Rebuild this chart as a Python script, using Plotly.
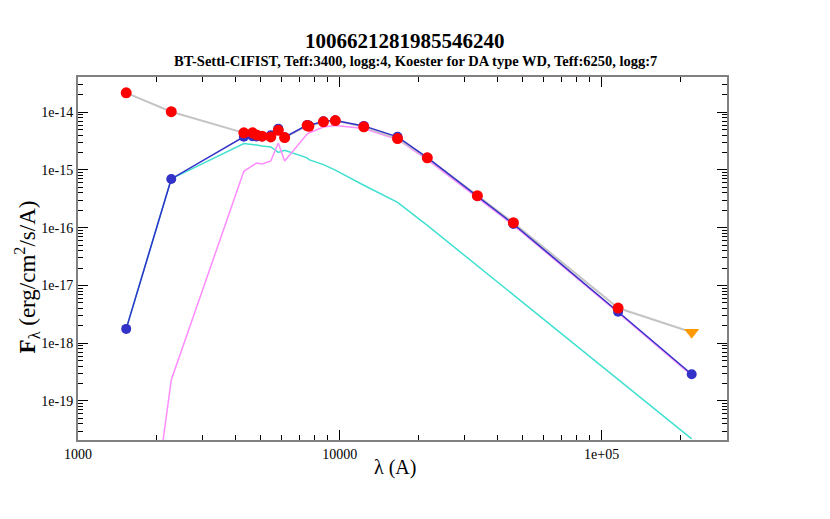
import plotly.graph_objects as go

# photometric bands (wavelength in Angstrom)
bands = ["FUV", "NUV", "B", "g", "PS1 g", "BP", "V", "G", "r", "i", "RP", "z", "y",
         "J", "H", "Ks", "W1", "W2", "W3", "W4"]
wave = [1528, 2271, 4300, 4640, 4810, 5050, 5450, 5822, 6156, 7503, 7620, 8660, 9613,
        12350, 16620, 21590, 33526, 46028, 115608, 220883]

# observed fluxes (W4 is an upper limit)
flux_obs = [2.17e-14, 1.02e-14, 4.39e-15, 4.39e-15, 4.05e-15, 3.84e-15, 3.74e-15, 4.87e-15,
            3.64e-15, 5.88e-15, 5.71e-15, 6.81e-15, 7.18e-15, 5.58e-15, 3.50e-15, 1.62e-15,
            3.59e-16, 1.22e-16, 4.06e-18]
flux_uplim = 1.55e-18

# composite model
flux_model = [1.77e-18, 7.0e-16, 3.75e-15, 3.85e-15, 3.8e-15, 3.8e-15, 4.0e-15, 5.2e-15,
              3.7e-15, 6.0e-15, 5.9e-15, 7.0e-15, 7.2e-15, 5.8e-15, 3.75e-15, 1.63e-15,
              3.5e-16, 1.16e-16, 3.5e-18, 2.9e-19]
# BT-Settl-CIFIST component
flux_bt = [4e-25, 2.31e-19, 9.48e-16, 1.21e-15, 1.32e-15, 1.27e-15, 1.43e-15, 2.94e-15,
           1.43e-15, 4.19e-15, 4.36e-15, 5.53e-15, 5.87e-15, 5.21e-15, 3.37e-15, 1.51e-15,
           3.32e-16, 1.11e-16, 3.37e-18, 2.77e-19]
# Koester WD component
flux_wd = [1.77e-18, 7.0e-16, 2.87e-15, 2.79e-15, 2.70e-15, 2.59e-15, 2.51e-15, 2.02e-15,
           2.19e-15, 1.62e-15, 1.51e-15, 1.24e-15, 9.95e-16, 5.44e-16, 2.75e-16, 1.10e-16,
           2.21e-17, 6.95e-18, 2.38e-19, 2.20e-20]

xticks = [1000, 10000, 100000]
xticktext = ["1000", "10000", "1e+05"]
yticks = [1e-19, 1e-18, 1e-17, 1e-16, 1e-15, 1e-14]
yticktext = ["1e-19", "1e-18", "1e-17", "1e-16", "1e-15", "1e-14"]

serif = "Liberation Serif"

fig = go.Figure()
fig.add_trace(go.Scatter(x=wave, y=flux_wd, mode="lines",
                         line=dict(color="#40E0D0", width=1.5), showlegend=False))
fig.add_trace(go.Scatter(x=wave, y=flux_bt, mode="lines",
                         line=dict(color="#FF8CFF", width=1.5), showlegend=False))
fig.add_trace(go.Scatter(x=wave, y=flux_obs + [flux_uplim], mode="lines",
                         line=dict(color="#C4C4C4", width=2), showlegend=False))
fig.add_trace(go.Scatter(x=wave, y=flux_model, mode="lines+markers",
                         line=dict(color="#3232C8", width=1.5),
                         marker=dict(color="#3232C8", size=10), showlegend=False))
fig.add_trace(go.Scatter(x=wave[:-1], y=flux_obs, mode="markers",
                         marker=dict(color="#FF0000", size=11), showlegend=False))
fig.add_trace(go.Scatter(x=[wave[-1]], y=[flux_uplim], mode="markers",
                         marker=dict(color="#FF9900", size=13, symbol="triangle-down"),
                         showlegend=False))

axis_common = dict(
    showgrid=False, zeroline=False, showline=True, linecolor="#808080", linewidth=2,
    mirror="ticks", ticks="inside", tickcolor="black", tickwidth=1, automargin=False,
    tickfont=dict(family=serif, size=14, color="black"),
)

fig.update_xaxes(type="log", range=[3, 5.479], tickmode="array", tickvals=xticks,
                 ticktext=xticktext, ticklen=10,
                 minor=dict(ticks="inside", ticklen=5, dtick="D1", tickcolor="black"),
                 **axis_common)
fig.update_yaxes(type="log", range=[-19.676, -13.39], tickmode="array", tickvals=yticks,
                 ticktext=yticktext, ticklen=10,
                 minor=dict(ticks="inside", ticklen=5, dtick="D1", tickcolor="black"),
                 **axis_common)

fig.update_layout(
    width=830, height=519,
    margin=dict(l=70, r=111, t=69, b=87),
    plot_bgcolor="white", paper_bgcolor="white",
    title=dict(text="<b>1006621281985546240</b>", x=0.478, xanchor="center",
               y=0.938, yanchor="middle",
               font=dict(family=serif, size=21, color="black")),
    annotations=[
        dict(text="<b>BT-Settl-CIFIST, Teff:3400, logg:4, Koester for DA type WD, Teff:6250, logg:7</b>",
             xref="paper", yref="paper", x=0.52, y=1.045, xanchor="center", yanchor="middle",
             showarrow=False, font=dict(family=serif, size=14.5, color="black")),
        dict(text="λ (A)", xref="paper", yref="paper", x=0.488, y=-0.077,
             xanchor="center", yanchor="middle", showarrow=False,
             font=dict(family=serif, size=20, color="black")),
        dict(text="<b>F</b><sub>λ</sub> (erg/cm<sup>2</sup>/s/A)", xref="paper", yref="paper",
             x=-0.079, y=0.45, xanchor="center", yanchor="middle", textangle=-90,
             showarrow=False, font=dict(family=serif, size=23, color="black")),
    ],
)

fig.write_html("out.html")
